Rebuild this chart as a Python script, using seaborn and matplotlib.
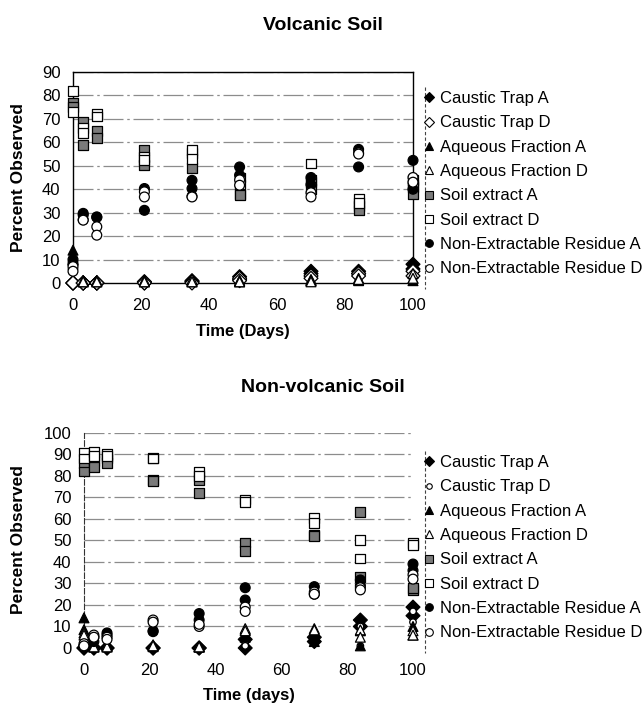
import matplotlib
matplotlib.use('Agg')
import matplotlib.pyplot as plt
import seaborn as sns
import pandas as pd
from matplotlib.lines import Line2D

sns.set_theme(style='white')
plt.rcParams['font.family'] = ['Liberation Sans', 'DejaVu Sans']
plt.rcParams['text.color'] = 'black'
plt.rcParams['axes.labelcolor'] = 'black'

TIMES = [0, 3, 7, 21, 35, 49, 70, 84, 100]
SERIES = ['Caustic Trap A', 'Caustic Trap D', 'Aqueous Fraction A', 'Aqueous Fraction D',
          'Soil extract A', 'Soil extract D', 'Non-Extractable Residue A', 'Non-Extractable Residue D']
Y_TICKS_TOP = [0, 10, 20, 30, 40, 50, 60, 70, 80, 90]
Y_TICKS_BOT = [0, 10, 20, 30, 40, 50, 60, 70, 80, 90, 100]
X_TICKS = [0, 20, 40, 60, 80, 100]

# Volcanic soil: two replicate values per sampling time
V_CT_A = [(0, 0), (0, 0), (0, 0), (0.5, 0), (1, 0.5), (2.7, 1.5), (5, 4), (5, 4), (8, 6)]
V_CT_D = [(0, 0), (0, 0), (0, 0), (0.5, 0), (0.5, 0), (2, 1), (3, 2), (4, 3), (5, 3)]
V_AQ_A = [(14, 11), (1, 0.5), (1, 0.5), (1, 0.5), (1, 0.5), (1, 0.5), (1.5, 1), (1.5, 1), (2, 1)]
V_AQ_D = [(10, 8), (1, 0.5), (1, 0.5), (1, 0.5), (1.5, 0.5), (1, 0.5), (1, 0.5), (2, 1.5), (4, 2)]
V_SE_A = [(77, 75), (68.6, 59), (65, 62), (56.6, 50.2), (55.5, 49.2), (38, 37.4), (43, 40), (33, 31), (41, 38)]
V_SE_D = [(82, 73), (66, 64), (72.2, 71), (53.8, 52.3), (56.6, 53), (45, 42), (51, 44), (36, 34), (44, 42)]
V_NER_A = [(10, 8), (29.7, 29), (28.2, 28), (40.3, 31), (43.8, 40.3), (49.5, 46), (45, 42), (57, 49.5), (52.3, 40)]
V_NER_D = [(7, 5), (27, 26.8), (24, 20.4), (38.9, 36.7), (37, 36.7), (44, 41.7), (38.5, 36.7), (55.5, 55), (45, 43)]

# Non-volcanic soil
N_CT_A = [(0, 0), (0, 0), (0, 0), (0, 0), (0, 0), (4, 0), (5, 3), (13, 10), (19, 15)]
N_CT_D = [(0, 0), (0, 0), (0, 0), (0, 0), (0, 0), (3, 1), (4, 2), (10, 1), (17, 12)]
N_AQ_A = [(14, 8.5), (0.5, 0.5), (1, 0.5), (1, 0.6), (0.5, 0.5), (8.4, 5), (5.5, 3), (8, 1), (10, 6)]
N_AQ_D = [(7, 6), (1, 0.5), (1, 0.5), (1.5, 1), (0.5, 0.5), (9, 8), (9, 8.4), (8.4, 5), (8, 6)]
N_SE_A = [(86, 82), (87, 84), (88, 86), (78, 77.5), (78, 72), (49, 45), (52.4, 52), (63.3, 33), (27, 28)]
N_SE_D = [(90.8, 88), (91, 89), (90, 89), (88.3, 88), (81.8, 80), (69, 68), (60.2, 57.9), (50, 41.6), (48.6, 48)]
N_NER_A = [(1, 0.5), (5, 3), (7, 6), (8, 7.6), (16, 13), (28, 22.3), (28.5, 25), (31.6, 29), (39, 36)]
N_NER_D = [(2, 1), (6, 5), (5, 4), (13, 12), (10, 11), (19, 17), (26, 25), (28, 27), (34, 32)]

FACE = {'Caustic Trap A': 'black', 'Caustic Trap D': 'white', 'Aqueous Fraction A': 'black',
        'Aqueous Fraction D': 'white', 'Soil extract A': '#7a7a7a', 'Soil extract D': 'white',
        'Non-Extractable Residue A': 'black', 'Non-Extractable Residue D': 'white'}
MARK_TOP = {'Caustic Trap A': 'D', 'Caustic Trap D': 'D', 'Aqueous Fraction A': '^',
            'Aqueous Fraction D': '^', 'Soil extract A': 's', 'Soil extract D': 's',
            'Non-Extractable Residue A': 'o', 'Non-Extractable Residue D': 'o'}
MARK_BOT = dict(MARK_TOP)
MARK_BOT['Caustic Trap D'] = 'o'
SIZE_TOP = {s: 50 for s in SERIES}
SIZE_BOT = dict(SIZE_TOP)
SIZE_BOT['Caustic Trap D'] = 22


def long_df(arrays):
    rows = []
    for name, vals in zip(SERIES, arrays):
        for t, pair in zip(TIMES, vals):
            for v in pair:
                rows.append({'Time': t, 'Percent': v, 'Series': name})
    return pd.DataFrame(rows)


df_top = long_df([V_CT_A, V_CT_D, V_AQ_A, V_AQ_D, V_SE_A, V_SE_D, V_NER_A, V_NER_D])
df_bot = long_df([N_CT_A, N_CT_D, N_AQ_A, N_AQ_D, N_SE_A, N_SE_D, N_NER_A, N_NER_D])

W, H = 643, 707
fig = plt.figure(figsize=(W / 100, H / 100), dpi=100)
fig.patch.set_facecolor('white')

ax1 = fig.add_axes([73 / W, 1 - 283 / H, 340 / W, 211 / H])
ax2 = fig.add_axes([84 / W, 1 - 648 / H, 329 / W, 215.3 / H])

GRID_LS = (0, (16, 3, 2, 3))


def draw(ax, df, markers, sizes, ymax, yticks):
    sns.scatterplot(data=df, x='Time', y='Percent', hue='Series', style='Series', size='Series',
                    hue_order=SERIES, style_order=SERIES, size_order=SERIES,
                    palette=FACE, markers=markers, sizes=sizes, edgecolor='black',
                    linewidth=0.9, legend=False, ax=ax, zorder=5)
    for c in ax.collections:
        c.set_clip_on(False)
    ax.set_xlim(0, 100)
    ax.set_ylim(0, ymax)
    ax.set_xticks(X_TICKS)
    ax.set_yticks(yticks)
    ax.tick_params(axis='both', length=0, labelsize=12, colors='black', labelcolor='black')
    ax.tick_params(axis='x', pad=11)
    ax.tick_params(axis='y', pad=9)
    ax.set_facecolor('white')
    for y in yticks[1:]:
        ax.axhline(y, color='#8c8c8c', lw=0.9, ls=GRID_LS, zorder=1)
    ax.set_ylabel('')


draw(ax1, df_top, MARK_TOP, SIZE_TOP, 90, Y_TICKS_TOP)
draw(ax2, df_bot, MARK_BOT, SIZE_BOT, 100, Y_TICKS_BOT)

for sp in ax1.spines.values():
    sp.set_visible(True)
    sp.set_color('black')
    sp.set_linewidth(1.0)
for side in ['top', 'right', 'bottom']:
    ax2.spines[side].set_visible(False)
ax2.spines['left'].set_visible(True)
ax2.spines['left'].set_color('#333333')
ax2.spines['left'].set_linewidth(0.8)
ax2.spines['left'].set_linestyle((0, (5, 2)))

ax1.set_xlabel('Time (Days)', fontsize=12, fontweight='bold', labelpad=8, color='black')
ax2.set_xlabel('Time (days)', fontsize=12, fontweight='bold', labelpad=7, color='black')

fig.text(323 / W, 1 - 26 / H, 'Volcanic Soil', ha='center', va='center', fontsize=14,
         fontweight='bold', color='black')
fig.text(323 / W, 1 - 387 / H, 'Non-volcanic Soil', ha='center', va='center', fontsize=14,
         fontweight='bold', color='black')
fig.text(19 / W, 1 - 178 / H, 'Percent Observed', ha='center', va='center', rotation=90,
         fontsize=12.5, fontweight='bold', color='black')
fig.text(19 / W, 1 - 540 / H, 'Percent Observed', ha='center', va='center', rotation=90,
         fontsize=12.5, fontweight='bold', color='black')


def legend_for(ax, markers, sizes, top_px):
    handles = []
    for s in SERIES:
        ms = 5.5 if sizes[s] > 30 else 4
        handles.append(Line2D([], [], ls='none', marker=markers[s], markersize=ms,
                              markerfacecolor=FACE[s], markeredgecolor='black', markeredgewidth=0.8))
    leg = fig.legend(handles, SERIES, loc='upper left', bbox_to_anchor=(424 / W, 1 - top_px / H),
                     frameon=False, fontsize=12, handlelength=0.6, handletextpad=0.35,
                     labelspacing=0.56, borderpad=0.0, borderaxespad=0.0)
    for t in leg.get_texts():
        t.set_color('black')
    fig.add_artist(Line2D([425 / W, 425 / W], [1 - (top_px - 4) / H, 1 - (top_px + 198) / H],
                          transform=fig.transFigure, color='#444444', lw=0.8, ls=(0, (3, 2))))


legend_for(ax1, MARK_TOP, SIZE_TOP, 91)
legend_for(ax2, MARK_BOT, SIZE_BOT, 455)

fig.savefig('out.png', dpi=100, facecolor='white')
